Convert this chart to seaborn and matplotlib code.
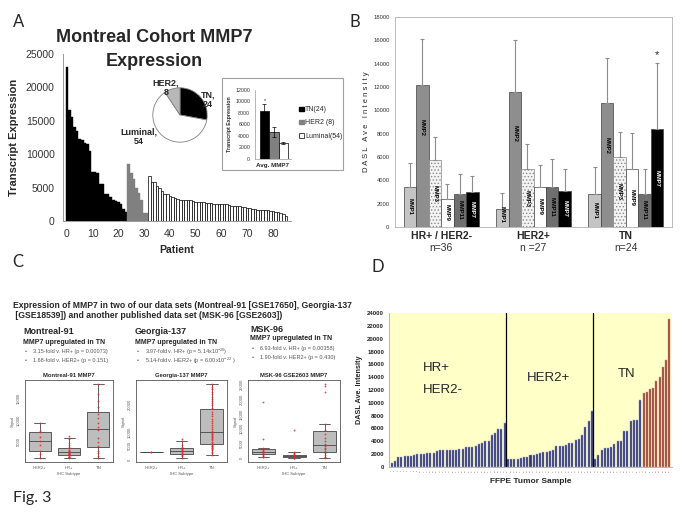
import matplotlib
matplotlib.use("Agg")
import matplotlib.pyplot as plt
import matplotlib.transforms as mtransforms
from matplotlib.patches import Patch, Rectangle
import numpy as np
import pandas as pd
import seaborn as sns

# ---------------- data ----------------
# A: Montreal cohort, MMP7 transcript per patient (sorted within subtype)
a_tn = [23000, 16600, 15600, 14100, 13400, 12300, 12200, 11700, 11600, 10500, 7400, 7300,
        7200, 5600, 5600, 4100, 4000, 3600, 3100, 3000, 2900, 2600, 1800, 1300]
a_her2 = [8600, 7200, 6300, 5000, 4200, 3100, 1200, 1200]
a_lum = [6800, 5900, 5900, 5300, 5000, 4500, 4100, 4000, 3800, 3600, 3400, 3300, 3200, 3200,
         3100, 3100, 3100, 3000, 2900, 2800, 2800, 2800, 2700, 2700, 2700, 2600, 2600, 2600,
         2600, 2600, 2500, 2400, 2300, 2200, 2200, 2200, 2100, 2100, 2000, 1900, 1800, 1800,
         1700, 1700, 1650, 1600, 1600, 1500, 1500, 1400, 1300, 1200, 1000, 800]
pie_labels = ["TN", "Luminal", "HER2"]
pie_counts = [24, 54, 8]
inset_groups = ["TN", "HER2", "Luminal"]
inset_means = [8400, 4700, 2800]
inset_err = [1200, 900, 150]
inset_legend = ["TN(24)", "HER2 (8)", "Luminal(54)"]

# B: DASL intensity of MMPs by subtype
b_groups = ["HR+ / HER2-", "HER2+", "TN"]
b_n = ["n=36", "n =27", "n=24"]
b_mmps = ["MMP1", "MMP2", "MMP3", "MMP9", "MMP11", "MMP7"]
b_vals = {"MMP1": [3450, 1550, 2800], "MMP2": [12150, 11600, 10600],
          "MMP3": [5700, 4950, 6000], "MMP9": [2400, 3450, 5000],
          "MMP11": [2850, 3400, 2850], "MMP7": [3000, 3100, 8400]}
b_upper = {"MMP1": [5500, 2950, 5100], "MMP2": [16100, 16000, 14450],
           "MMP3": [7700, 7100, 8100], "MMP9": [3650, 5350, 8050],
           "MMP11": [4500, 5850, 4950], "MMP7": [4400, 5000, 14050]}

# C: three data sets, MMP7 signal by IHC subtype
c_subtypes = ["HER2+", "HR+", "TN"]
c_mon = {"HER2+": [1200, 2300, 2800, 4300, 5200, 6200, 7200, 7600, 9500],
         "HR+": [1200, 1400, 1500, 1600, 1800, 1900, 2000, 2100, 2200, 2300, 2400, 2500, 2600,
                 2700, 2900, 3000, 3200, 3500, 3700, 3900, 4200, 4800, 5600, 6000, 6400],
         "TN": [1300, 1800, 2400, 3000, 4000, 5000, 6000, 7700, 8500, 9500, 10500, 11500,
                13000, 14500, 16000, 18500]}
c_geo = {"HER2+": [2700, 2700],
         "HR+": [500, 1200, 1800, 2000, 2200, 2500, 2800, 3000, 3200, 3500, 3900, 4000, 4600,
                 5500, 6700, 7400],
         "TN": [1700, 2300, 2900, 3400, 3800, 4100, 4400, 4700, 4900, 5100, 5300, 5700, 6100,
                6500, 7000, 7500, 7900, 8300, 8700, 9000, 9400, 9700, 10300, 11000, 11800,
                12500, 13300, 14100, 15000, 15800, 16600, 17500, 18300, 19000, 19800, 20600,
                21400, 22200, 23000, 23900, 24800, 25700, 26600, 27700]}
c_msk = {"HER2+": [300, 600, 900, 1200, 1500, 1800, 2000, 2200, 2500, 2800, 3100, 3300, 3500,
                   6500, 19000],
         "HR+": [0, 100, 200, 300, 400, 500, 600, 700, 800, 900, 1000, 1200, 1500, 1800, 2200,
                 9700],
         "TN": [0, 300, 600, 1200, 1800, 2500, 3000, 3400, 4000, 5000, 6000, 7000, 8400, 9500,
                11500, 22500, 24400, 25300]}

# D: FFPE samples, DASL MMP7 intensity
d_hr = [700, 1000, 1550, 1600, 1650, 1650, 1700, 1850, 2050, 2100, 2100, 2200, 2200, 2200,
        2450, 2600, 2600, 2600, 2600, 2700, 2700, 2750, 2800, 3100, 3150, 3150, 3200, 3600,
        3800, 4000, 4100, 5000, 5300, 5900, 5900, 6800]
d_her2 = [1200, 1200, 1250, 1300, 1400, 1500, 1600, 1800, 1900, 2000, 2200, 2400, 2400, 2500,
          2600, 3200, 3200, 3300, 3500, 3700, 3800, 4200, 4400, 5000, 6300, 7200, 8700]
d_tn = [1300, 1800, 2600, 2900, 3000, 3100, 3600, 4000, 4100, 5600, 5600, 7200, 7300, 7400,
        10500]
d_tn_high = [11600, 11700, 12200, 12300, 13400, 14100, 15600, 16700, 23000]

# ---------------- style ----------------
sns.set_style("white")
plt.rcParams["font.family"] = ["Liberation Sans", "DejaVu Sans"]
plt.rcParams["mathtext.default"] = "regular"
plt.rcParams["hatch.linewidth"] = 0.6

W, H = 683, 513
fig = plt.figure(figsize=(6.83, 5.13), dpi=100)


def box(x0, y0, x1, y1):
    return fig.add_axes([x0 / W, 1 - y1 / H, (x1 - x0) / W, (y1 - y0) / H])


def ftext(x, y, s, **kw):
    kw.setdefault("va", "center")
    fig.text(x / W, 1 - y / H, s, **kw)


# ---------------- panel A ----------------
dfa = pd.DataFrame({
    "patient": range(len(a_tn) + len(a_her2) + len(a_lum)),
    "value": a_tn + a_her2 + a_lum,
    "group": ["TN"] * len(a_tn) + ["HER2"] * len(a_her2) + ["Luminal"] * len(a_lum),
})
pal_a = {"TN": "black", "HER2": "#808080", "Luminal": "white"}
axA = box(63, 54, 291, 221)
sns.barplot(data=dfa, x="patient", y="value", hue="group", palette=pal_a, dodge=False,
            width=1.0, legend=False, ax=axA, linewidth=0)
for p in axA.patches:
    fc = p.get_facecolor()
    if fc[0] > 0.9:
        p.set_edgecolor("black")
        p.set_linewidth(0.5)
    else:
        p.set_edgecolor(fc)
        p.set_linewidth(0.3)
axA.set_xlim(-1.5, 87)
axA.set_ylim(0, 25000)
axA.set_yticks(range(0, 25001, 5000))
axA.set_yticklabels([str(v) for v in range(0, 25001, 5000)], fontsize=7.5, color="#333333")
axA.set_xticks(range(0, 81, 10))
axA.set_xticklabels([str(v) for v in range(0, 81, 10)], fontsize=7.5, color="#333333")
axA.tick_params(length=2, color="#999999", pad=4)
for s in ["top", "right"]:
    axA.spines[s].set_visible(False)
for s in ["left", "bottom"]:
    axA.spines[s].set_color("#999999")
    axA.spines[s].set_linewidth(0.7)
axA.set_xlabel("Patient", fontsize=7.5, fontweight="bold", labelpad=4)
axA.set_ylabel("Transcript Expression", fontsize=8, fontweight="bold", labelpad=5)
ftext(154, 37, "Montreal Cohort MMP7", ha="center", fontsize=13, fontweight="bold")
ftext(154, 62, "Expression", ha="center", fontsize=13, fontweight="bold")

# pie
axP = box(152, 87, 208, 143)
axP.pie(pie_counts, colors=["black", "white", "#b8b8b8"], startangle=90, counterclock=False,
        wedgeprops=dict(edgecolor="#808080", linewidth=0.6))
axP.set_xlim(-1.03, 1.03)
axP.set_ylim(-1.03, 1.03)
ftext(208, 100, "TN,\n24", ha="center", fontsize=6.5, fontweight="bold", linespacing=1.1)
ftext(166, 88, "HER2,\n8", ha="center", fontsize=6.5, fontweight="bold", linespacing=1.1)
ftext(139, 137, "Luminal,\n54", ha="center", fontsize=6.5, fontweight="bold", linespacing=1.1)

# inset bar chart
fig.add_artist(Rectangle((222 / W, 1 - 170 / H), 121 / W, 92 / H, transform=fig.transFigure,
                         fill=False, edgecolor="#a0a0a0", linewidth=0.8))
axI = box(255, 90, 291, 159)
sns.barplot(x=inset_groups, y=inset_means, hue=inset_groups,
            palette=["black", "#808080", "white"], width=1.0, legend=False, ax=axI,
            edgecolor="black", linewidth=0.5)
axI.errorbar(range(3), inset_means, yerr=inset_err, fmt="none", ecolor="black",
             elinewidth=0.5, capsize=1.5, capthick=0.5)
axI.text(0, inset_means[0] + inset_err[0] + 500, "*", ha="center", va="center", fontsize=4)
axI.set_xlim(-1.0, 2.8)
axI.set_ylim(0, 12000)
axI.set_yticks(range(0, 12001, 2000))
axI.set_yticklabels([str(v) for v in range(0, 12001, 2000)], fontsize=3.8, color="#333333")
axI.set_xticks([])
axI.tick_params(axis="y", length=1.5, color="#999999", pad=2)
for s in ["top", "right"]:
    axI.spines[s].set_visible(False)
for s in ["left", "bottom"]:
    axI.spines[s].set_color("#999999")
    axI.spines[s].set_linewidth(0.5)
axI.set_xlabel("Avg. MMP7", fontsize=4.5, fontweight="bold", labelpad=3)
axI.set_ylabel("Transcript Expression", fontsize=3.8, fontweight="bold", labelpad=2)
fig.legend(handles=[Patch(fc="black", ec="black"), Patch(fc="#808080", ec="#808080"),
                    Patch(fc="white", ec="black", lw=0.5)],
           labels=inset_legend, loc="center left", bbox_to_anchor=(296 / W, 1 - 123 / H),
           frameon=False, fontsize=5, handlelength=0.6, handleheight=0.6,
           handletextpad=0.2, labelspacing=0.9, borderpad=0)

# ---------------- panel B ----------------
rows = []
for m in b_mmps:
    for g, v in zip(b_groups, b_vals[m]):
        rows.append({"group": g, "mmp": m, "value": v})
dfb = pd.DataFrame(rows)
pal_b = {"MMP1": "#c4c4c4", "MMP2": "#8e8e8e", "MMP3": "#f4f4f4", "MMP9": "white",
         "MMP11": "#6f6f6f", "MMP7": "black"}
axB = box(395, 17, 672, 227)
sns.barplot(data=dfb, x="group", y="value", hue="mmp", hue_order=b_mmps, order=b_groups,
            palette=pal_b, width=0.81, errorbar=None, legend=False, ax=axB,
            edgecolor="#404040", linewidth=0.5)
for k, m in enumerate(b_mmps):
    for j in range(len(b_groups)):
        p = axB.patches[k * len(b_groups) + j]
        xc = p.get_x() + p.get_width() / 2
        h = p.get_height()
        if m == "MMP3":
            p.set_hatch(".....")
            p.set_edgecolor("#8a8a8a")
        axB.errorbar([xc], [h], yerr=[[0], [b_upper[m][j] - h]], fmt="none",
                     ecolor="#8c8c8c", elinewidth=0.8, capsize=1.5, capthick=0.8)
        ly = h - 3600 if h > 9000 else h / 2
        axB.text(xc, max(ly, 1100), m, rotation=270, ha="center", va="center", fontsize=4.2,
                 fontweight="bold", color="white" if m == "MMP7" else "black")
tn_idx = b_groups.index("TN")
p7 = axB.patches[5 * len(b_groups) + tn_idx]
axB.text(p7.get_x() + p7.get_width() / 2, b_upper["MMP7"][tn_idx] + 700, "*",
         ha="center", va="center", fontsize=8)
axB.set_ylim(0, 18000)
axB.set_xlim(-0.5, 2.5)
axB.set_yticks(range(0, 18001, 2000))
axB.set_yticklabels([str(v) for v in range(0, 18001, 2000)], fontsize=4.2, color="#333333")
axB.set_xticks(range(3))
axB.set_xticklabels(b_groups, fontsize=7.5, fontweight="bold")
axB.tick_params(axis="x", length=0, pad=3)
axB.tick_params(axis="y", length=2, color="#999999", pad=2)
for s in axB.spines.values():
    s.set_color("#bbbbbb")
    s.set_linewidth(0.7)
axB.set_xlabel("")
axB.set_ylabel("D A S L   A v e   I n t e n s i t y", fontsize=5.5, labelpad=2)
trB = mtransforms.blended_transform_factory(axB.transData, axB.transAxes)
for j, n in enumerate(b_n):
    axB.text(j, -0.1, n, transform=trB, ha="center", va="center", fontsize=7.5,
             color="#333333")

# ---------------- panel C ----------------
ftext(13, 305, "Expression of MMP7 in two of our data sets (Montreal-91 [GSE17650], Georgia-137",
      fontsize=6.2, fontweight="bold")
ftext(13, 315, " [GSE18539]) and another published data set (MSK-96 [GSE2603])",
      fontsize=6.2, fontweight="bold")

c_blocks = [
    (23, 332, "Montreal-91", ["3.15-fold v. HR+ (p = 0.00073)", "1.68-fold v. HER2+ (p = 0.151)"]),
    (135, 332, "Georgia-137", ["3.97-fold v. HR+ (p = 5.14x10$^{-20}$)",
                               "5.14-fold v. HER2+ (p = 6.00x10$^{-22}$ )"]),
    (250, 329, "MSK-96", ["6.93-fold v. HR+ (p = 0.00358)", "1.90-fold v. HER2+ (p = 0.430)"]),
]
for x, y, name, bullets in c_blocks:
    ftext(x, y, name, fontsize=6.5, fontweight="bold")
    ftext(x, y + 10, "MMP7 upregulated in TN", fontsize=5, fontweight="bold", color="#222222")
    for i, b in enumerate(bullets):
        ftext(x + 2, y + 19.5 + 9 * i, "\u2022", fontsize=4, color="#555555")
        ftext(x + 10, y + 19.5 + 9 * i, b, fontsize=4.0, color="#555555")

c_sets = [
    ((25, 380, 113, 462), "Montreal-91 MMP7", c_mon, [5000, 10000, 15000]),
    ((136, 380, 227, 462), "Georgia-137 MMP7", c_geo, [0, 5000, 10000, 20000]),
    ((248, 380, 340, 462), "MSK-96 GSE2603 MMP7", c_msk, [0, 5000, 10000, 15000, 20000, 25000]),
]
for rect, title, data, yt in c_sets:
    dfc = pd.DataFrame({"subtype": [s for s in c_subtypes for _ in data[s]],
                        "signal": [v for s in c_subtypes for v in data[s]]})
    axc = box(*rect)
    sns.boxplot(data=dfc, x="subtype", y="signal", order=c_subtypes, color="#bdbdbd",
                linecolor="#444444", linewidth=0.6, width=0.75, showfliers=False, ax=axc)
    sns.stripplot(data=dfc, x="subtype", y="signal", order=c_subtypes, color="#e8262a",
                  size=1.3, jitter=False, alpha=0.85, ax=axc)
    axc.margins(y=0.05)
    axc.set_yticks(yt)
    axc.set_yticklabels([str(v) for v in yt], fontsize=3, rotation=90, va="center",
                        color="#555555")
    axc.set_xticks(range(3))
    axc.set_xticklabels(c_subtypes, fontsize=3, color="#555555")
    axc.tick_params(length=1.5, width=0.4, color="#555555", pad=1.5)
    for s in axc.spines.values():
        s.set_color("#555555")
        s.set_linewidth(0.6)
    axc.set_title(title, fontsize=4.2, fontweight="bold", pad=2)
    axc.set_xlabel("IHC Subtype", fontsize=3, color="#555555", labelpad=1.5)
    axc.set_ylabel("Signal", fontsize=3, color="#555555", labelpad=1.5)

# ---------------- panel D ----------------
d_vals = d_hr + d_her2 + d_tn + d_tn_high
d_cls = ["base"] * (len(d_hr) + len(d_her2) + len(d_tn)) + ["high"] * len(d_tn_high)
dfd = pd.DataFrame({"sample": range(len(d_vals)), "value": d_vals, "cls": d_cls})
axD = box(389, 313, 672, 467)
axD.set_facecolor("#ffffc8")
sns.barplot(data=dfd, x="sample", y="value", hue="cls",
            palette={"base": "#262c78", "high": "#a5352a"}, dodge=False, width=0.62,
            legend=False, ax=axD, linewidth=0.35)
for p in axD.patches:
    fc = p.get_facecolor()
    p.set_edgecolor("#d89a8a" if fc[0] > 0.5 else "#9aa0d8")
axD.axvline(len(d_hr) - 0.5, color="black", linewidth=0.9)
axD.axvline(len(d_hr) + len(d_her2) - 0.5, color="black", linewidth=0.9)
axD.set_xlim(-0.8, len(d_vals) - 0.2)
axD.set_ylim(0, 24000)
axD.set_yticks(range(0, 24001, 2000))
axD.set_yticklabels([str(v) for v in range(0, 24001, 2000)], fontsize=4.3,
                    fontweight="bold", color="#222222")
axD.set_xticks(range(len(d_vals)))
axD.set_xticklabels([str(i + 1) for i in range(len(d_vals))], fontsize=1.6, rotation=90,
                    color="#666666")
axD.tick_params(axis="x", length=1, width=0.3, pad=1)
axD.tick_params(axis="y", length=1.5, color="#999999", pad=2)
for s in ["top", "right"]:
    axD.spines[s].set_visible(False)
for s in ["left", "bottom"]:
    axD.spines[s].set_color("#aaaaaa")
    axD.spines[s].set_linewidth(0.6)
axD.set_xlabel("FFPE Tumor Sample", fontsize=6, fontweight="bold", labelpad=4)
axD.set_ylabel("DASL Ave. Intensity", fontsize=5.2, fontweight="bold", labelpad=3)
ftext(423, 368, "HR+", fontsize=9.5)
ftext(423, 390, "HER2-", fontsize=9.5)
ftext(527, 378, "HER2+", fontsize=9.5)
ftext(618, 374, "TN", fontsize=9.5)

# ---------------- panel letters ----------------
for lab, x, y in [("A", 19, 22), ("B", 355, 22), ("C", 18, 262), ("D", 378, 267)]:
    ftext(x, y, lab, fontsize=12, family=["Lato", "DejaVu Sans"], ha="center")
ftext(13, 498, "Fig. 3", fontsize=11.5, family=["Lato", "DejaVu Sans"])

fig.savefig("out.png", dpi=100)
